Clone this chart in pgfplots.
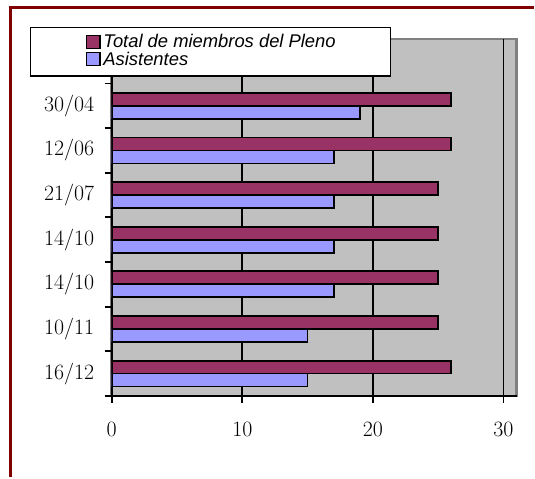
\documentclass[border=0pt]{standalone}
\usepackage{pgfplots}
\pgfplotsset{compat=1.18}
\usepackage{pgfplotstable}
\usepackage{fontspec}
\newfontfamily\legfont{Liberation Sans}
\definecolor{maroonbar}{HTML}{993366}
\definecolor{bluebar}{HTML}{9999FF}
\definecolor{plotgray}{HTML}{C0C0C0}
\definecolor{bordergray}{HTML}{808080}
\definecolor{framered}{HTML}{800000}

\pgfplotstableread{
idx total asist
0 26 15
1 25 15
2 25 17
3 25 17
4 25 17
5 26 17
6 26 19
}\datatable

\begin{document}
\begin{tikzpicture}
\path (0,0) rectangle (535bp,478bp);
\draw[framered, line width=3bp] (10.5bp,0) -- (10.5bp,470.5bp) -- (535bp,470.5bp);
\begin{axis}[
  at={(112bp,81bp)}, anchor=south west,
  scale only axis, width=406bp, height=358bp,
  xmin=0, xmax=31, ymin=-0.5, ymax=7.5,
  xbar, bar width=13bp,
  axis x line*=bottom, axis y line*=left,
  axis line style={-, black, line width=1.8bp},
  axis background/.style={fill=plotgray, draw=bordergray, line width=2.5bp},
  xtick={0,10,20,30},
  ytick={0,...,6},
  yticklabels={16/12,10/11,14/10,14/10,21/07,12/06,30/04},
  minor ytick={-0.5,0.5,...,7.5},
  tick align=outside,
  major tick length=7bp, minor tick length=7bp,
  tick style={black, line width=1.8bp},
  every major y tick/.append style={draw=none},
  xmajorgrids, grid style={black, line width=1.8bp},
  /pgf/number format/assume math mode=true,
  ticklabel style={font=\fontsize{22}{26}\selectfont},
  xticklabel style={yshift=-16bp},
  yticklabel style={xshift=-7bp},
  legend style={at={(axis description cs:-0.2020,1.0335)}, anchor=north west,
    draw=black, line width=1.5bp, fill=white, inner xsep=55bp, inner ysep=7bp,
    column sep=2.5bp, row sep=0pt,
    nodes={inner sep=0pt, text height=12bp, text depth=4bp,
      font=\legfont\itshape\fontsize{18.5}{18}\selectfont, anchor=base west}},
  legend cell align=left,
  legend image code/.code={\draw[#1, line width=1.5bp] (0bp,-0.5bp) rectangle (14bp,12.5bp);},
]
\addplot[fill=maroonbar, draw=black, line width=1.8bp, bar shift=6.5bp] table[x=total, y=idx] {\datatable};
\addplot[fill=bluebar, draw=black, line width=1.8bp, bar shift=-6.5bp] table[x=asist, y=idx] {\datatable};
\legend{Total de miembros del Pleno, Asistentes}
\end{axis}
\end{tikzpicture}
\end{document}
